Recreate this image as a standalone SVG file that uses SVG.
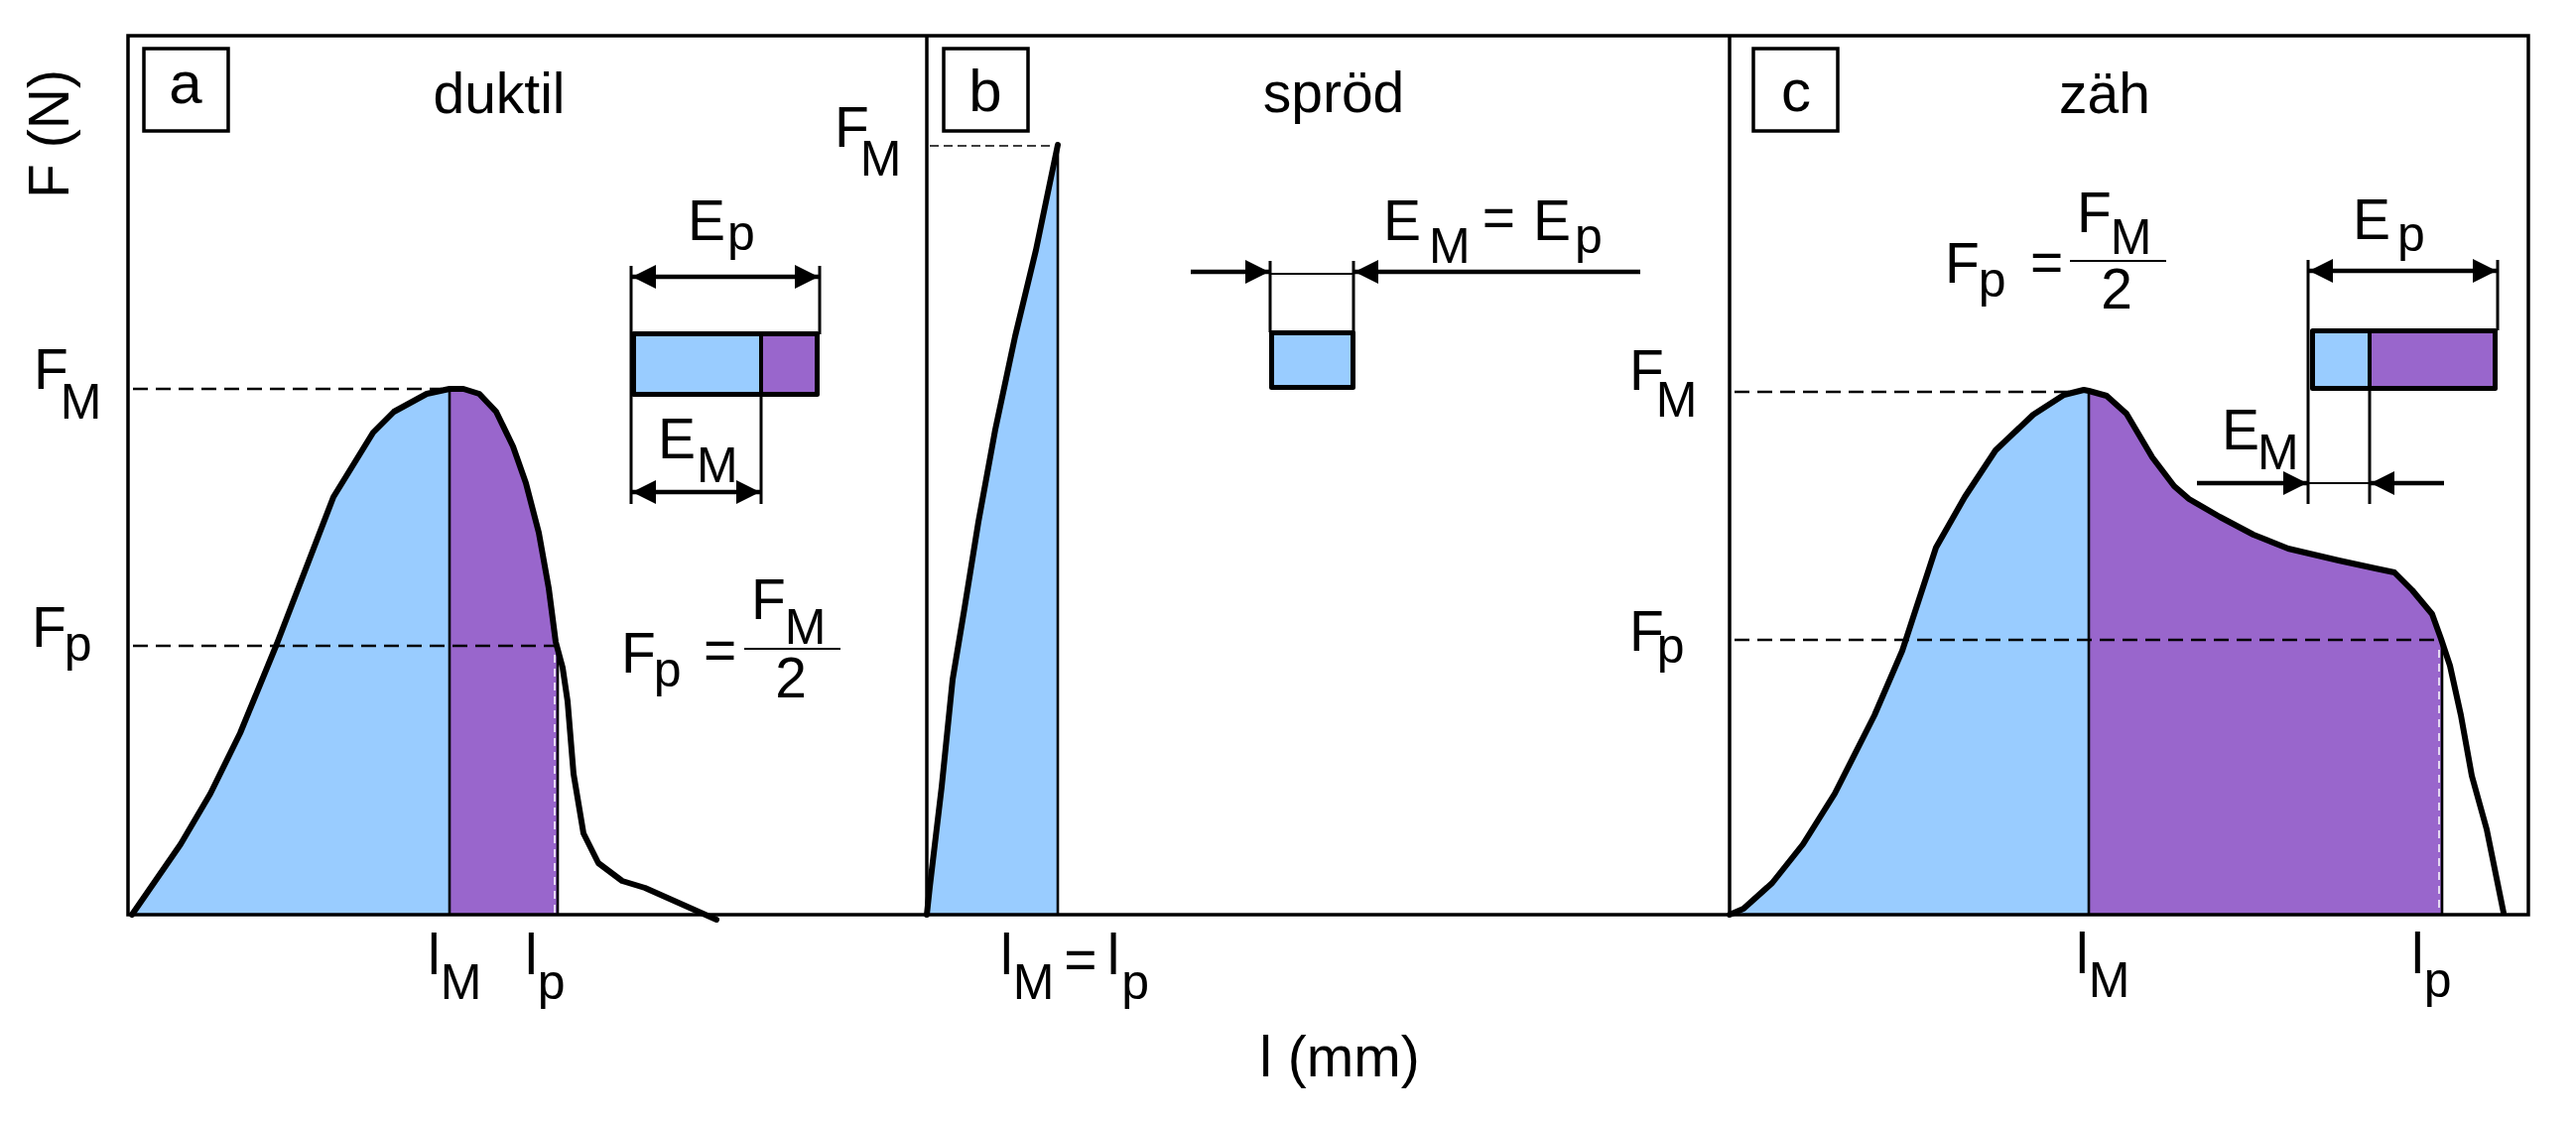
<svg xmlns="http://www.w3.org/2000/svg" width="2596" height="1132" viewBox="0 0 2596 1132">
<style>
text{font-family:"Liberation Sans",Arial,sans-serif;fill:#000}
.t{font-size:57px}
.s{font-size:50px}
.L{font-size:60px}
.m{text-anchor:middle}
.curve{fill:none;stroke:#000;stroke-width:6;stroke-linejoin:round;stroke-linecap:round}
.blue{fill:#99CCFF}
.purple{fill:#9966CC}
.frame{fill:none;stroke:#000;stroke-width:3.5}
.dash{stroke:#000;stroke-width:2.6;stroke-dasharray:15 8;fill:none}
.dashthin{stroke:#000;stroke-width:1.6;stroke-dasharray:9 5;fill:none}
.vline{stroke:#000;stroke-width:2.6}
.ext{stroke:#000;stroke-width:3}
.thin{stroke:#000;stroke-width:2}
.arr{stroke:#000;stroke-width:4.5;fill:none}
.box{stroke:#000;stroke-width:5;stroke-linejoin:round}
.lbl{fill:#fff;stroke:#000;stroke-width:3.5}
</style>
<defs>
<marker id="ah" viewBox="0 0 24 24" refX="24" refY="12" markerWidth="24" markerHeight="24" markerUnits="userSpaceOnUse" orient="auto-start-reverse">
<path d="M0,0 L24,12 L0,24 Z" fill="#000"/>
</marker>
</defs>
<rect width="2596" height="1132" fill="#fff"/>

<g id="panel-a">
<path class="blue" d="M133,922 L182,851 L212,800 L242,739 L279,649 L336,501 L376,436 L397,415 L430,397 L453,392 L453,922 Z"/>
<path class="purple" d="M453,392 L467,392 L483,397 L500,415 L517,450 L530,487 L543,537 L553,593 L560,647 L561,651 L561,922 L453,922 Z"/>
<line class="vline" x1="453" y1="392" x2="453" y2="922"/>
<line class="vline" x1="562" y1="651" x2="562" y2="922"/>
<line x1="559" y1="660" x2="559" y2="920" stroke="#fff" stroke-width="1.5" stroke-dasharray="8 6"/>
<line class="dash" x1="134" y1="392" x2="445" y2="392"/>
<line class="dash" x1="134" y1="651" x2="561" y2="651"/>
<path class="curve" d="M133,922 L182,851 L212,800 L242,739 L279,649 L336,501 L376,436 L397,415 L430,397 L453,392 L467,392 L483,397 L500,415 L517,450 L530,487 L543,537 L553,593 L560,647 L567,673 L572,707 L578,780 L588,840 L603,870 L627,888 L650,895 L722,927"/>
<rect class="lbl" x="145" y="49" width="85" height="83"/>
<text class="L m" x="187" y="104">a</text>
<text class="t m" x="503" y="114">duktil</text>
<text class="t" x="34" y="392">F<tspan class="s" dx="-8" dy="30">M</tspan></text>
<text class="t" x="32" y="652">F<tspan class="s" dx="-2" dy="14">p</tspan></text>
<text class="t" x="431" y="982">l<tspan class="s" dx="0" dy="25">M</tspan></text>
<text class="t" x="529" y="982">l<tspan class="s" dx="0" dy="25">p</tspan></text>
<g id="formula-a">
<text class="t" x="626" y="678">F<tspan class="s" dx="-2" dy="14">p</tspan></text>
<text class="t" x="709" y="675">=</text>
<line class="thin" x1="750" y1="654" x2="847" y2="654"/>
<text class="t" x="757" y="624">F<tspan class="s" dx="-1" dy="25">M</tspan></text>
<text class="t m" x="797" y="703">2</text>
</g>
<g id="inset-a">
<rect class="box blue" x="638.5" y="336.5" width="185" height="61"/>
<rect class="purple" x="768" y="339" width="53" height="56"/>
<line x1="767" y1="337" x2="767" y2="398" stroke="#000" stroke-width="4"/>
<text class="t" x="693" y="242">E<tspan class="s" dx="2" dy="10">p</tspan></text>
<text class="t" x="663" y="462">E<tspan class="s" dx="1" dy="24">M</tspan></text>
</g>
</g>

<g id="panel-b">
<path class="blue" d="M934,922 L937,894 L949,793 L960,685 L972,613 L986,526 L1003,433 L1023,339 L1044,252 L1066,146 L1066,922 Z"/>
<line class="vline" x1="1066" y1="146" x2="1066" y2="922" stroke-width="3"/>
<line class="dashthin" x1="937" y1="147" x2="1064" y2="147"/>
<path class="curve" d="M934,922 L937,894 L949,793 L960,685 L972,613 L986,526 L1003,433 L1023,339 L1044,252 L1066,146"/>
<rect class="lbl" x="951" y="49" width="85" height="83"/>
<text class="L m" x="993" y="112">b</text>
<text class="t m" x="1344" y="113">spröd</text>
<text class="t" x="841" y="148">F<tspan class="s" dx="-9" dy="29">M</tspan></text>
<text class="t" x="1008" y="982">l<tspan class="s" dx="0" dy="25">M</tspan><tspan class="t" dx="10" dy="-20">=</tspan><tspan class="t" dx="10" dy="-5">l</tspan><tspan class="s" dx="2" dy="25">p</tspan></text>
<text class="t m" x="1350" y="1085">l (mm)</text>
<g id="inset-b">
<rect class="box blue" x="1281.5" y="335.5" width="82" height="55"/>
<text class="t" x="1394" y="242">E<tspan class="s" dx="8" dy="23">M</tspan><tspan class="t" dx="12" dy="-26">=</tspan><tspan class="t" dx="18" dy="3">E</tspan><tspan class="s" dx="4" dy="13">p</tspan></text>
</g>
</g>

<g id="panel-c">
<path class="blue" d="M1743,922 L1757,916 L1786,890 L1817,851 L1849,800 L1889,721 L1917,656 L1951,552 L1980,501 L2011,454 L2049,418 L2080,398 L2100,393 L2105,394 L2105,922 Z"/>
<path class="purple" d="M2105,394 L2123,399 L2143,417 L2169,461 L2191,490 L2206,503 L2237,521 L2271,539 L2306,553 L2357,565 L2394,573 L2413,577 L2431,595 L2451,619 L2460,644 L2460,922 L2105,922 Z"/>
<line class="vline" x1="2105" y1="394" x2="2105" y2="922"/>
<line class="vline" x1="2461" y1="645" x2="2461" y2="922"/>
<line x1="2458" y1="655" x2="2458" y2="920" stroke="#fff" stroke-width="1.5" stroke-dasharray="8 6"/>
<line class="dash" x1="1748" y1="395" x2="2092" y2="395"/>
<line class="dash" x1="1748" y1="645" x2="2460" y2="645"/>
<path class="curve" d="M1743,922 L1757,916 L1786,890 L1817,851 L1849,800 L1889,721 L1917,656 L1951,552 L1980,501 L2011,454 L2049,418 L2080,398 L2100,393 L2105,394 L2123,399 L2143,417 L2169,461 L2191,490 L2206,503 L2237,521 L2271,539 L2306,553 L2357,565 L2394,573 L2413,577 L2431,595 L2451,619 L2460,644 L2469,671 L2480,721 L2491,782 L2506,836 L2523,920"/>
<rect class="lbl" x="1767" y="49" width="85" height="83"/>
<text class="L m" x="1810" y="112">c</text>
<text class="t m" x="2121" y="114">zäh</text>
<text class="t" x="1642" y="393">F<tspan class="s" dx="-8" dy="27">M</tspan></text>
<text class="t" x="1642" y="656">F<tspan class="s" dx="-7" dy="12">p</tspan></text>
<text class="t" x="2092" y="981">l<tspan class="s" dx="0" dy="24">M</tspan></text>
<text class="t" x="2430" y="981">l<tspan class="s" dx="0" dy="24">p</tspan></text>
<g id="formula-c">
<text class="t" x="1960" y="285">F<tspan class="s" dx="-1" dy="14">p</tspan></text>
<text class="t" x="2046" y="284">=</text>
<line class="thin" x1="2086" y1="263" x2="2183" y2="263"/>
<text class="t" x="2093" y="234">F<tspan class="s" dx="-1" dy="22">M</tspan></text>
<text class="t m" x="2133" y="311">2</text>
</g>
<g id="inset-c">
<rect class="box blue" x="2330.5" y="333.5" width="184" height="58"/>
<rect class="purple" x="2390" y="336" width="122" height="53"/>
<line x1="2388" y1="334" x2="2388" y2="393" stroke="#000" stroke-width="4"/>
<text class="t" x="2371" y="241">E<tspan class="s" dx="7" dy="12">p</tspan></text>
<text class="t" x="2239" y="453">E<tspan class="s" dx="-2" dy="20">M</tspan></text>
</g>
</g>

<g id="axes">
<rect class="frame" x="129" y="36" width="2419" height="886"/>
<line class="frame" x1="934" y1="36" x2="934" y2="922"/>
<line class="frame" x1="1743" y1="36" x2="1743" y2="922"/>
<text class="t m" transform="translate(69,135) rotate(-90)">F (N)</text>
</g>

<g id="connectors">
<line class="ext" x1="636" y1="268" x2="636" y2="508"/>
<line class="ext" x1="826" y1="268" x2="826" y2="337"/>
<line class="ext" x1="767" y1="398" x2="767" y2="508"/>
<line class="arr" x1="637" y1="279" x2="825" y2="279" marker-start="url(#ah)" marker-end="url(#ah)"/>
<line class="arr" x1="637" y1="496" x2="766" y2="496" marker-start="url(#ah)" marker-end="url(#ah)"/>

<line class="ext" x1="1280" y1="263" x2="1280" y2="335"/>
<line class="ext" x1="1364" y1="263" x2="1364" y2="335"/>
<line class="thin" x1="1280" y1="276" x2="1364" y2="276"/>
<line class="arr" x1="1200" y1="274" x2="1279" y2="274" marker-end="url(#ah)"/>
<line class="arr" x1="1653" y1="274" x2="1365" y2="274" marker-end="url(#ah)"/>

<line class="ext" x1="2326" y1="262" x2="2326" y2="508"/>
<line class="ext" x1="2517" y1="262" x2="2517" y2="333"/>
<line class="ext" x1="2388" y1="393" x2="2388" y2="508"/>
<line class="arr" x1="2327" y1="273" x2="2516" y2="273" marker-start="url(#ah)" marker-end="url(#ah)"/>
<line class="thin" x1="2326" y1="487" x2="2388" y2="487"/>
<line class="arr" x1="2214" y1="487" x2="2325" y2="487" marker-end="url(#ah)"/>
<line class="arr" x1="2463" y1="487" x2="2389" y2="487" marker-end="url(#ah)"/>
</g>
</svg>
